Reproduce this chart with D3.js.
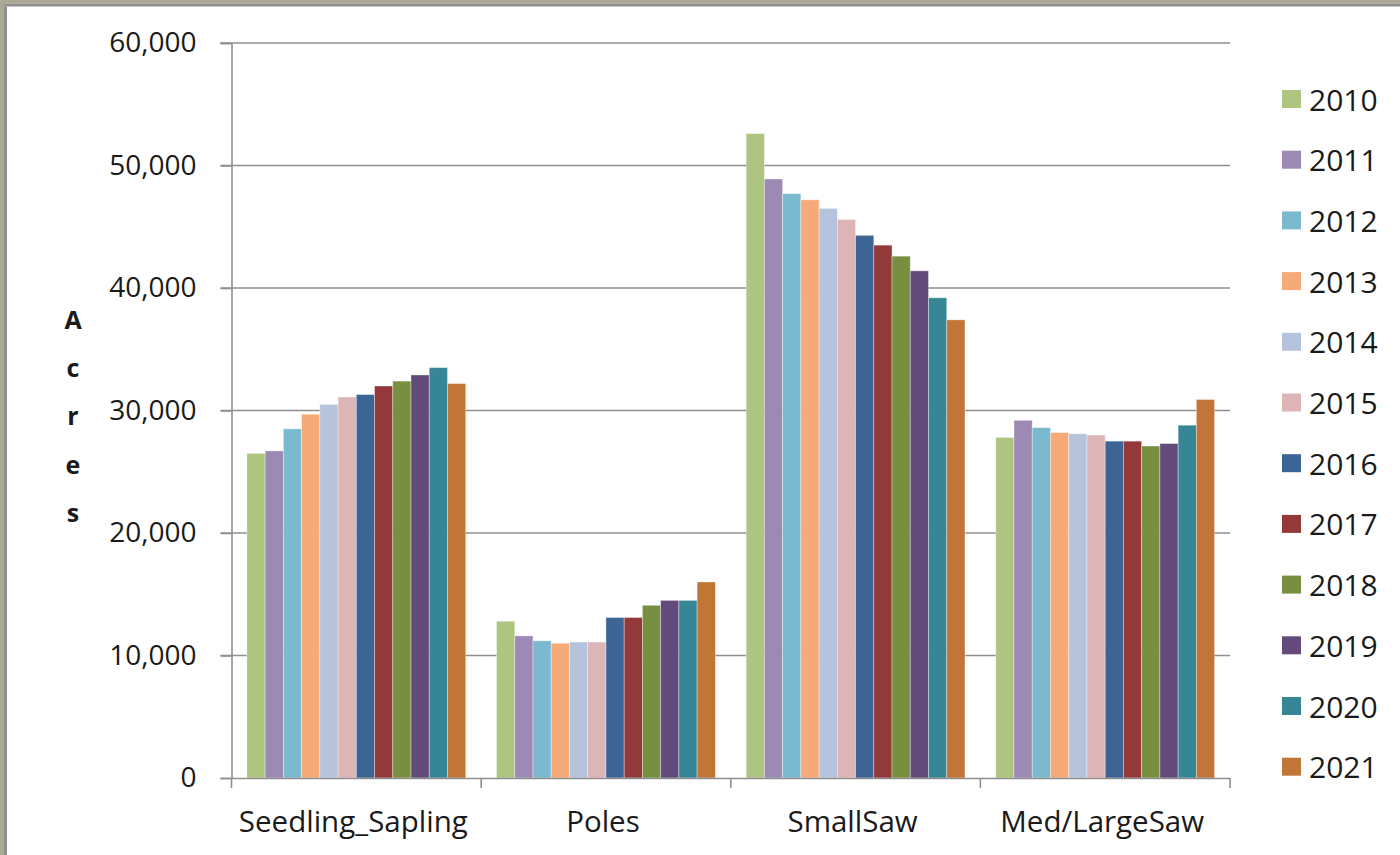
<!DOCTYPE html>
<html>
<head>
<meta charset="utf-8">
<script src="https://cdn.jsdelivr.net/npm/d3@7/dist/d3.min.js"></script>
<style>
  html, body { margin: 0; padding: 0; background: #fff; }
  svg { display: block; }
  text { font-family: "Open Sans", "Liberation Sans", sans-serif; fill: #1a1a1a; }
</style>
</head>
<body>
<svg id="chart" width="1400" height="855"></svg>
<script>
// Forest acreage by size class, 2010-2021
const categories = ["Seedling_Sapling", "Poles", "SmallSaw", "Med/LargeSaw"];
const years = ["2010", "2011", "2012", "2013", "2014", "2015", "2016", "2017", "2018", "2019", "2020", "2021"];

const seedlingSapling = [26500, 26700, 28500, 29700, 30500, 31100, 31300, 32000, 32400, 32900, 33500, 32200];
const poles           = [12800, 11600, 11200, 11000, 11100, 11100, 13100, 13100, 14100, 14500, 14500, 16000];
const smallSaw        = [52600, 48900, 47700, 47200, 46500, 45600, 44300, 43500, 42600, 41400, 39200, 37400];
const medLargeSaw     = [27800, 29200, 28600, 28200, 28100, 28000, 27500, 27500, 27100, 27300, 28800, 30900];

const yTicks = [0, 10000, 20000, 30000, 40000, 50000, 60000];

const yearColors = ["#adc580", "#9c8ab4", "#7bb9cf", "#f6aa78", "#b5c3dd", "#deb5b6",
                    "#3c6595", "#93393a", "#788f41", "#624b7b", "#378696", "#c17536"];

const seriesByCategory = [seedlingSapling, poles, smallSaw, medLargeSaw];
const rows = categories.map((c, i) => ({
  category: c,
  values: years.map((yr, j) => ({ year: yr, value: seriesByCategory[i][j] }))
}));

const svg = d3.select("#chart");

// outer frame (top and left edges)
svg.append("rect").attr("x", 0).attr("y", 0).attr("width", 1400).attr("height", 3.5).attr("fill", "#aba895");
svg.append("rect").attr("x", 0).attr("y", 3.5).attr("width", 1400).attr("height", 3).attr("fill", "#8e8e8e");
svg.append("rect").attr("x", 0).attr("y", 0).attr("width", 4).attr("height", 855).attr("fill", "#aba895");
svg.append("rect").attr("x", 4).attr("y", 6.5).attr("width", 3).attr("height", 855).attr("fill", "#8e8e8e");

const plot = { left: 231.5, right: 1230, top: 43, bottom: 778 };

const y = d3.scaleLinear().domain([0, 60000]).range([plot.bottom, plot.top]);
const x0 = d3.scaleBand().domain(categories).range([plot.left, plot.right]).padding(0);
const groupGap = 15.4;
const x1 = d3.scaleBand().domain(years).range([groupGap, x0.bandwidth() - groupGap]).padding(0);
const color = d3.scaleOrdinal().domain(years).range(yearColors);

const gridColor = "#8f8f8f";

// horizontal gridlines
svg.append("g")
  .selectAll("line")
  .data(yTicks.filter(d => d > 0))
  .join("line")
  .attr("x1", plot.left - 11)
  .attr("x2", plot.right)
  .attr("y1", d => y(d))
  .attr("y2", d => y(d))
  .attr("stroke", gridColor)
  .attr("stroke-width", 1.6);

// y axis
const yAxis = svg.append("g")
  .attr("transform", `translate(${plot.left},0)`)
  .call(d3.axisLeft(y).tickValues(yTicks).tickFormat(d3.format(",")).tickSize(11).tickPadding(24));
yAxis.select(".domain").attr("stroke", gridColor).attr("stroke-width", 1.6);
yAxis.selectAll(".tick line").attr("stroke", gridColor).attr("stroke-width", 1.6);
yAxis.selectAll(".tick text")
  .attr("font-size", 28)
  .attr("font-family", "'Open Sans', sans-serif")
  .attr("fill", "#1a1a1a");

// bars
const groups = svg.append("g")
  .selectAll("g")
  .data(rows)
  .join("g")
  .attr("transform", d => `translate(${x0(d.category)},0)`);

groups.selectAll("rect")
  .data(d => d.values)
  .join("rect")
  .attr("x", d => x1(d.year))
  .attr("width", x1.bandwidth())
  .attr("y", d => y(d.value))
  .attr("height", d => y(0) - y(d.value))
  .attr("fill", d => color(d.year))
  .attr("stroke", "rgba(255,255,255,0.45)")
  .attr("stroke-width", 0.8);

// x axis
const xAxis = svg.append("g")
  .attr("transform", `translate(0,${plot.bottom})`)
  .call(d3.axisBottom(x0).tickSize(0).tickPadding(33));
xAxis.select(".domain").attr("stroke", gridColor).attr("stroke-width", 1.6);
xAxis.selectAll(".tick text")
  .attr("font-size", 29.5)
  .attr("font-family", "'Open Sans', sans-serif")
  .attr("fill", "#1a1a1a")
  .attr("dx", -3);

// category separators below the baseline
const boundaries = categories.map(c => x0(c)).concat([x0(categories[categories.length - 1]) + x0.bandwidth()]);
svg.append("g")
  .selectAll("line")
  .data(boundaries)
  .join("line")
  .attr("x1", d => d)
  .attr("x2", d => d)
  .attr("y1", plot.bottom)
  .attr("y2", plot.bottom + 10)
  .attr("stroke", gridColor)
  .attr("stroke-width", 1.6);

// y axis title, stacked letters
const titleLetters = "Acres".split("");
svg.append("g")
  .selectAll("text")
  .data(titleLetters)
  .join("text")
  .attr("x", 73)
  .attr("y", (d, i) => 319 + i * 48.2)
  .attr("text-anchor", "middle")
  .attr("dominant-baseline", "central")
  .attr("font-size", 25)
  .attr("font-weight", "bold")
  .text(d => d);

// legend
const legend = svg.append("g")
  .selectAll("g")
  .data(years)
  .join("g")
  .attr("transform", (d, i) => `translate(1282,${99 + i * 60.7})`);

legend.append("rect")
  .attr("x", 0)
  .attr("y", -9)
  .attr("width", 19)
  .attr("height", 18)
  .attr("fill", d => color(d));

legend.append("text")
  .attr("x", 27)
  .attr("y", 0)
  .attr("dominant-baseline", "central")
  .attr("font-size", 30)
  .text(d => d);
</script>
</body>
</html>
